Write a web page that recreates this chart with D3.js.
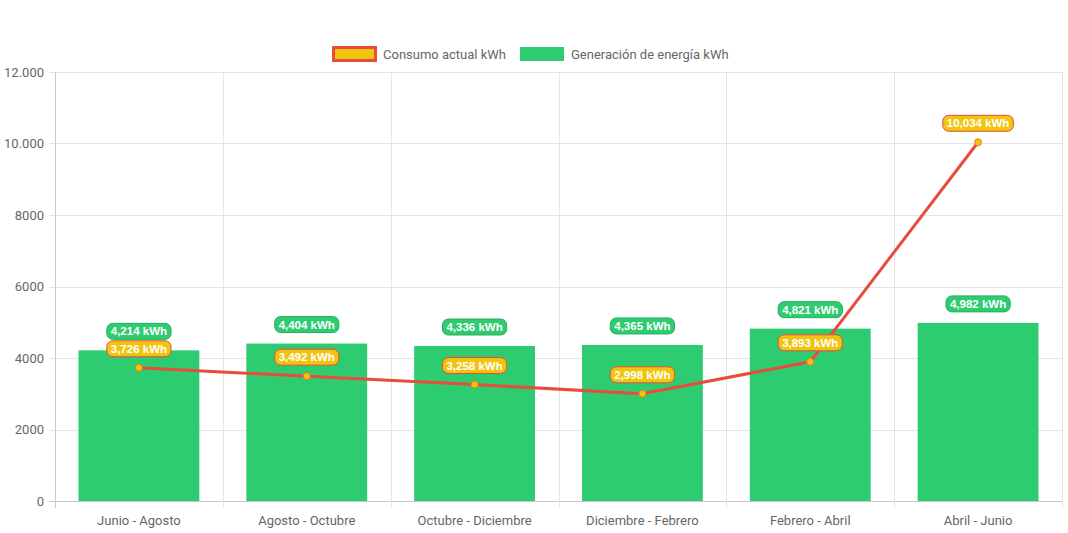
<!DOCTYPE html>
<html>
<head>
<meta charset="utf-8">
<script src="https://cdn.jsdelivr.net/npm/d3@7"></script>
<style>
  body { margin: 0; background: #fff; }
  svg text { font-family: Roboto, "Liberation Sans", Arial, sans-serif; }
  svg text.badge { font-family: "Liberation Sans", Arial, sans-serif; }
</style>
</head>
<body>
<svg id="chart" width="1068" height="533"></svg>
<script>
const categories = ['Junio - Agosto', 'Agosto - Octubre', 'Octubre - Diciembre', 'Diciembre - Febrero', 'Febrero - Abril', 'Abril - Junio'];
const consumo = [3726, 3492, 3258, 2998, 3893, 10034];
const generacion = [4214, 4404, 4336, 4365, 4821, 4982];
const yTicks = [0, 2000, 4000, 6000, 8000, 10000, 12000];
const yTickLabels = ['0', '2000', '4000', '6000', '8000', '10.000', '12.000'];

const green = '#2ecc71';
const yellow = '#f1c40f';
const red = '#e74c3c';

const svg = d3.select('#chart');
const margin = { top: 72, right: 6, bottom: 32, left: 55 };
const width = 1068;
const height = 533;
const innerWidth = width - margin.left - margin.right;
const innerHeight = height - margin.top - margin.bottom;

const x = d3.scaleBand().domain(categories).range([0, innerWidth]).paddingInner(0).paddingOuter(0);
const y = d3.scaleLinear().domain([0, 12000]).range([innerHeight, 0]);

const g = svg.append('g').attr('transform', `translate(${margin.left},${margin.top})`);

// grid
g.selectAll('.hgrid')
  .data(yTicks)
  .enter()
  .append('line')
  .attr('x1', -6)
  .attr('x2', innerWidth)
  .attr('y1', (d) => Math.round(y(d)) + 0.5)
  .attr('y2', (d) => Math.round(y(d)) + 0.5)
  .attr('stroke', (d) => (d === 0 ? '#c8c8c8' : '#e5e5e5'));

const bounds = categories.map((c) => x(c)).concat([innerWidth]);
g.selectAll('.vgrid')
  .data(bounds)
  .enter()
  .append('line')
  .attr('x1', (d) => Math.round(d) + 0.5)
  .attr('x2', (d) => Math.round(d) + 0.5)
  .attr('y1', 0)
  .attr('y2', innerHeight + 7)
  .attr('stroke', (d, i) => (i === 0 ? '#c8c8c8' : '#e5e5e5'));

// y labels
g.selectAll('.ylab')
  .data(yTicks)
  .enter()
  .append('text')
  .attr('x', -11)
  .attr('y', (d) => y(d))
  .attr('dy', '0.35em')
  .attr('text-anchor', 'end')
  .attr('font-size', '13px')
  .attr('fill', '#666')
  .text((d, i) => yTickLabels[i]);

// x labels
g.selectAll('.xlab')
  .data(categories)
  .enter()
  .append('text')
  .attr('x', (d) => x(d) + x.bandwidth() / 2)
  .attr('y', innerHeight + 24)
  .attr('text-anchor', 'middle')
  .attr('font-size', '13px')
  .attr('fill', '#666')
  .text((d) => d);

// bars
const barW = x.bandwidth() * 0.72;
g.selectAll('.bar')
  .data(generacion)
  .enter()
  .append('rect')
  .attr('x', (d, i) => x(categories[i]) + (x.bandwidth() - barW) / 2)
  .attr('y', (d) => y(d))
  .attr('width', barW)
  .attr('height', (d) => innerHeight - y(d))
  .attr('fill', green);

// line
const cx = (i) => x(categories[i]) + x.bandwidth() / 2;
const line = d3.line().x((d, i) => cx(i)).y((d) => y(d));
g.append('path')
  .datum(consumo)
  .attr('d', line)
  .attr('fill', 'none')
  .attr('stroke', red)
  .attr('stroke-width', 3);

g.selectAll('.pt')
  .data(consumo)
  .enter()
  .append('circle')
  .attr('cx', (d, i) => cx(i))
  .attr('cy', (d) => y(d))
  .attr('r', 3.5)
  .attr('fill', yellow)
  .attr('stroke', '#e67e22')
  .attr('stroke-width', 1);

// badges
function badge(px, py, txt, fill, stroke) {
  const t = g.append('text')
    .attr('class', 'badge')
    .attr('x', px)
    .attr('y', py)
    .attr('dy', '0.35em')
    .attr('text-anchor', 'middle')
    .attr('font-size', '11.5px')
    .attr('font-weight', 'bold')
    .attr('fill', '#fff')
    .text(txt);
  const w = t.node().getComputedTextLength() + 8;
  g.insert('rect', () => t.node())
    .attr('x', px - w / 2)
    .attr('y', py - 8)
    .attr('width', w)
    .attr('height', 16)
    .attr('rx', 6)
    .attr('fill', fill)
    .attr('stroke', stroke)
    .attr('stroke-width', 1);
}

const fmt = d3.format(',');
generacion.forEach((d, i) => badge(cx(i), y(d) - 19, fmt(d) + ' kWh', green, '#27ae60'));
consumo.forEach((d, i) => badge(cx(i), y(d) - 19, fmt(d) + ' kWh', yellow, red));

// legend
const legend = svg.append('g').attr('transform', 'translate(0,54)');
legend.append('rect').attr('x', 333.5).attr('y', -6.5).attr('width', 42).attr('height', 13).attr('fill', yellow).attr('stroke', red).attr('stroke-width', 3);
legend.append('text').attr('x', 383).attr('y', 0).attr('dy', '0.35em').attr('font-size', '13px').attr('fill', '#666').text('Consumo actual kWh');
legend.append('rect').attr('x', 520).attr('y', -7).attr('width', 44).attr('height', 14).attr('fill', green);
legend.append('text').attr('x', 571).attr('y', 0).attr('dy', '0.35em').attr('font-size', '13px').attr('fill', '#666').text('Generación de energía kWh');
</script>
</body>
</html>
